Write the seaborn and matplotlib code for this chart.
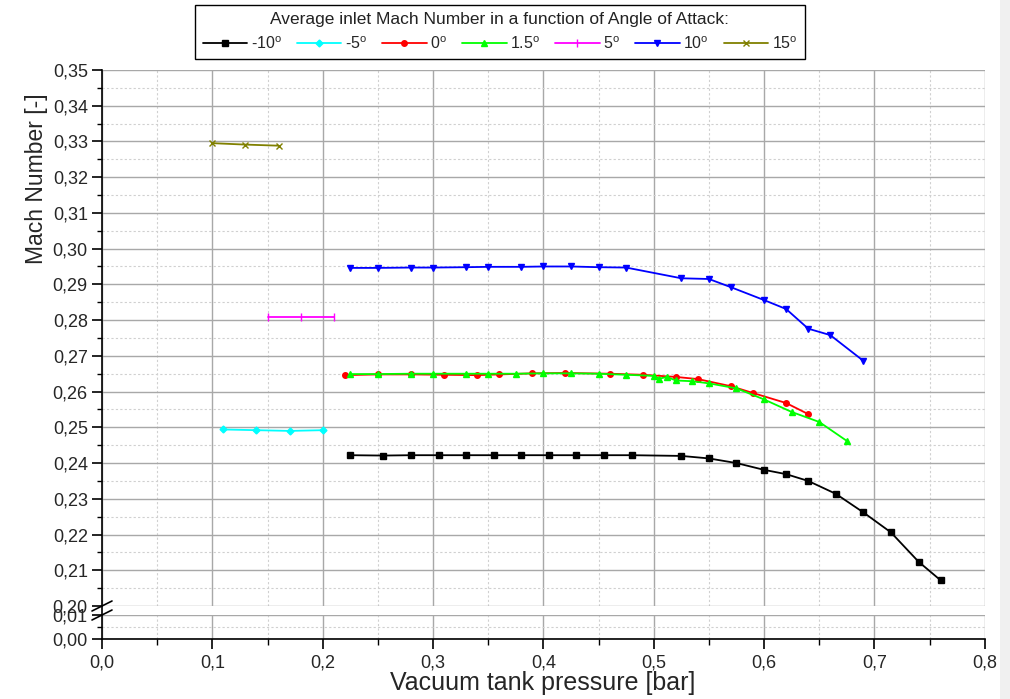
import matplotlib
matplotlib.use('Agg')
import matplotlib.pyplot as plt
from matplotlib.ticker import MultipleLocator, FuncFormatter
from matplotlib.lines import Line2D
from matplotlib.patches import Rectangle
import seaborn as sns

# Average inlet Mach number vs vacuum tank pressure, per angle of attack
x_m10 = [0.225, 0.255, 0.28, 0.305, 0.33, 0.355, 0.38, 0.405, 0.43, 0.455, 0.48,
         0.525, 0.55, 0.575, 0.60, 0.62, 0.64, 0.665, 0.69, 0.715, 0.74, 0.76]
y_m10 = [0.2422, 0.2421, 0.2422, 0.2422, 0.2422, 0.2422, 0.2422, 0.2422, 0.2422, 0.2422, 0.2422,
         0.2420, 0.2413, 0.2400, 0.2381, 0.2369, 0.2350, 0.2314, 0.2262, 0.2206, 0.2124, 0.2072]

x_m5 = [0.11, 0.14, 0.17, 0.20]
y_m5 = [0.2494, 0.2492, 0.2490, 0.2492]

x_0 = [0.22, 0.25, 0.28, 0.31, 0.34, 0.36, 0.39, 0.42, 0.46, 0.49,
       0.52, 0.54, 0.57, 0.59, 0.62, 0.64]
y_0 = [0.2646, 0.2648, 0.2648, 0.2647, 0.2646, 0.2648, 0.2651, 0.2652, 0.2650, 0.2647,
       0.2641, 0.2635, 0.2615, 0.2596, 0.2568, 0.2537]

x_15 = [0.225, 0.25, 0.28, 0.30, 0.33, 0.35, 0.375, 0.40, 0.425, 0.45, 0.475,
        0.50, 0.505, 0.512, 0.52, 0.535, 0.55, 0.575, 0.60, 0.625, 0.65, 0.675]
y_15 = [0.2649, 0.2649, 0.2650, 0.2650, 0.2650, 0.2650, 0.2650, 0.2651, 0.2651, 0.2650, 0.2647,
        0.2644, 0.2636, 0.2641, 0.2631, 0.2629, 0.2623, 0.2609, 0.2578, 0.2543, 0.2515, 0.2462]

x_5 = [0.15, 0.18, 0.21]
y_5 = [0.2809, 0.2809, 0.2809]

x_10 = [0.225, 0.25, 0.28, 0.30, 0.33, 0.35, 0.38, 0.40, 0.425, 0.45, 0.475,
        0.525, 0.55, 0.57, 0.60, 0.62, 0.64, 0.66, 0.69]
y_10 = [0.2946, 0.2946, 0.2947, 0.2947, 0.2948, 0.2949, 0.2949, 0.2950, 0.2950, 0.2948, 0.2947,
        0.2917, 0.2915, 0.2892, 0.2856, 0.2831, 0.2776, 0.2758, 0.2686]

x_p15 = [0.10, 0.13, 0.16]
y_p15 = [0.3295, 0.3291, 0.3288]

labels = ['-10$^{\\mathregular{o}}$', '-5$^{\\mathregular{o}}$', '0$^{\\mathregular{o}}$',
          '1.5$^{\\mathregular{o}}$', '5$^{\\mathregular{o}}$', '10$^{\\mathregular{o}}$',
          '15$^{\\mathregular{o}}$']

series = [
    (x_m10, y_m10, '#000000', 's', 4.0),
    (x_m5, y_m5, '#00ffff', 'D', 3.5),
    (x_0, y_0, '#ff0000', 'o', 4.0),
    (x_15, y_15, '#00ff00', '^', 5.0),
    (x_5, y_5, '#ff00ff', '|', 6.0),
    (x_10, y_10, '#0000ff', 'v', 5.0),
    (x_p15, y_p15, '#808000', 'x', 4.0),
]

sns.set_style('white')
plt.rcParams['font.family'] = ['Liberation Sans', 'DejaVu Sans']

W, H = 1010.0, 699.0
fig = plt.figure(figsize=(10.1, 6.99), dpi=100)
fig.add_artist(Rectangle((1000 / W, 0), 10 / W, 1, transform=fig.transFigure,
                         facecolor='#f0f0f0', edgecolor='none', zorder=0))
ax = fig.add_axes([0.101, 0.133, 0.874, 0.767])
ax_low = fig.add_axes([0.101, 0.0858, 0.874, 0.0344], sharex=ax)

for i, (xs, ys, col, mk, ms) in enumerate(series):
    sns.lineplot(x=xs, y=ys, ax=ax, color=col, marker=mk, markersize=ms,
                 markeredgecolor=col, markeredgewidth=1.0, linewidth=1.3,
                 sort=False, estimator=None, label=labels[i])

handles, labs = ax.get_legend_handles_labels()
if ax.get_legend() is not None:
    ax.get_legend().remove()

fmt_y = FuncFormatter(lambda v, p: f'{v:.2f}'.replace('.', ','))
fmt_x = FuncFormatter(lambda v, p: f'{v:.1f}'.replace('.', ','))

ax.set_xlim(0, 0.8)
ax.set_ylim(0.20, 0.35)
ax.yaxis.set_major_locator(MultipleLocator(0.01))
ax.yaxis.set_minor_locator(MultipleLocator(0.005))
ax.yaxis.set_major_formatter(fmt_y)
ax_low.set_ylim(0, 0.01)
ax_low.yaxis.set_major_locator(MultipleLocator(0.01))
ax_low.yaxis.set_minor_locator(MultipleLocator(0.005))
ax_low.yaxis.set_major_formatter(fmt_y)
ax_low.xaxis.set_major_locator(MultipleLocator(0.1))
ax_low.xaxis.set_minor_locator(MultipleLocator(0.05))
ax_low.xaxis.set_major_formatter(fmt_x)

for a in (ax, ax_low):
    a.set_facecolor('white')
    a.grid(which='major', color='#a8a8a8', linewidth=1.0)
    a.grid(which='minor', color='#d0d0d0', linewidth=0.8, linestyle=(0, (2, 2)))
    a.set_axisbelow(True)
    a.spines['top'].set_visible(False)
    a.spines['right'].set_visible(False)
    a.spines['left'].set_color('black')
    a.spines['left'].set_linewidth(1.2)
    a.tick_params(axis='y', which='major', left=True, direction='out', length=7.2,
                  width=1.2, color='black', labelsize=13, pad=3)
    a.tick_params(axis='y', which='minor', left=True, direction='out', length=3.6,
                  width=1.0, color='black')
    a.set_xlabel('')
    a.set_ylabel('')

ax.spines['bottom'].set_visible(False)
ax.tick_params(axis='x', which='both', bottom=False, labelbottom=False)
ax_low.spines['bottom'].set_color('black')
ax_low.spines['bottom'].set_linewidth(1.2)
ax_low.tick_params(axis='x', which='major', bottom=True, direction='out', length=7.2,
                   width=1.2, color='black', labelsize=13, pad=4)
ax_low.tick_params(axis='x', which='minor', bottom=True, direction='out', length=4.3,
                   width=1.0, color='black')

ax.set_ylabel('Mach Number [-]', fontsize=16.5)
ax.yaxis.set_label_coords(48 / W, 0.745, transform=fig.transFigure)
ax_low.set_xlabel('Vacuum tank pressure [bar]', fontsize=18)
ax_low.xaxis.set_label_coords(543 / W, 1 - 671 / H, transform=fig.transFigure)

# axis break: join the spine and draw the two slashes
fig.add_artist(Line2D([102 / W, 102 / W], [1 - 615 / H, 1 - 606 / H], color='black', lw=1.2))
fig.add_artist(Line2D([92 / W, 112 / W], [1 - 611 / H, 1 - 601 / H], color='black', lw=1.2))
fig.add_artist(Line2D([92 / W, 112 / W], [1 - 620 / H, 1 - 610 / H], color='black', lw=1.2))

leg = fig.legend(handles, labs, loc='upper center', bbox_to_anchor=(500 / W, 1 - 5 / H),
                 ncol=7, title='Average inlet Mach Number in a function of Angle of Attack:',
                 frameon=True, fancybox=False, edgecolor='black', fontsize=11.5,
                 title_fontsize=12.5, handlelength=2.8, columnspacing=0.95,
                 handletextpad=0.2, borderpad=0.45, borderaxespad=0, framealpha=1)
leg.get_frame().set_linewidth(1.0)
leg.get_title().set_color('#222222')

fig.savefig('out.png', dpi=100)
